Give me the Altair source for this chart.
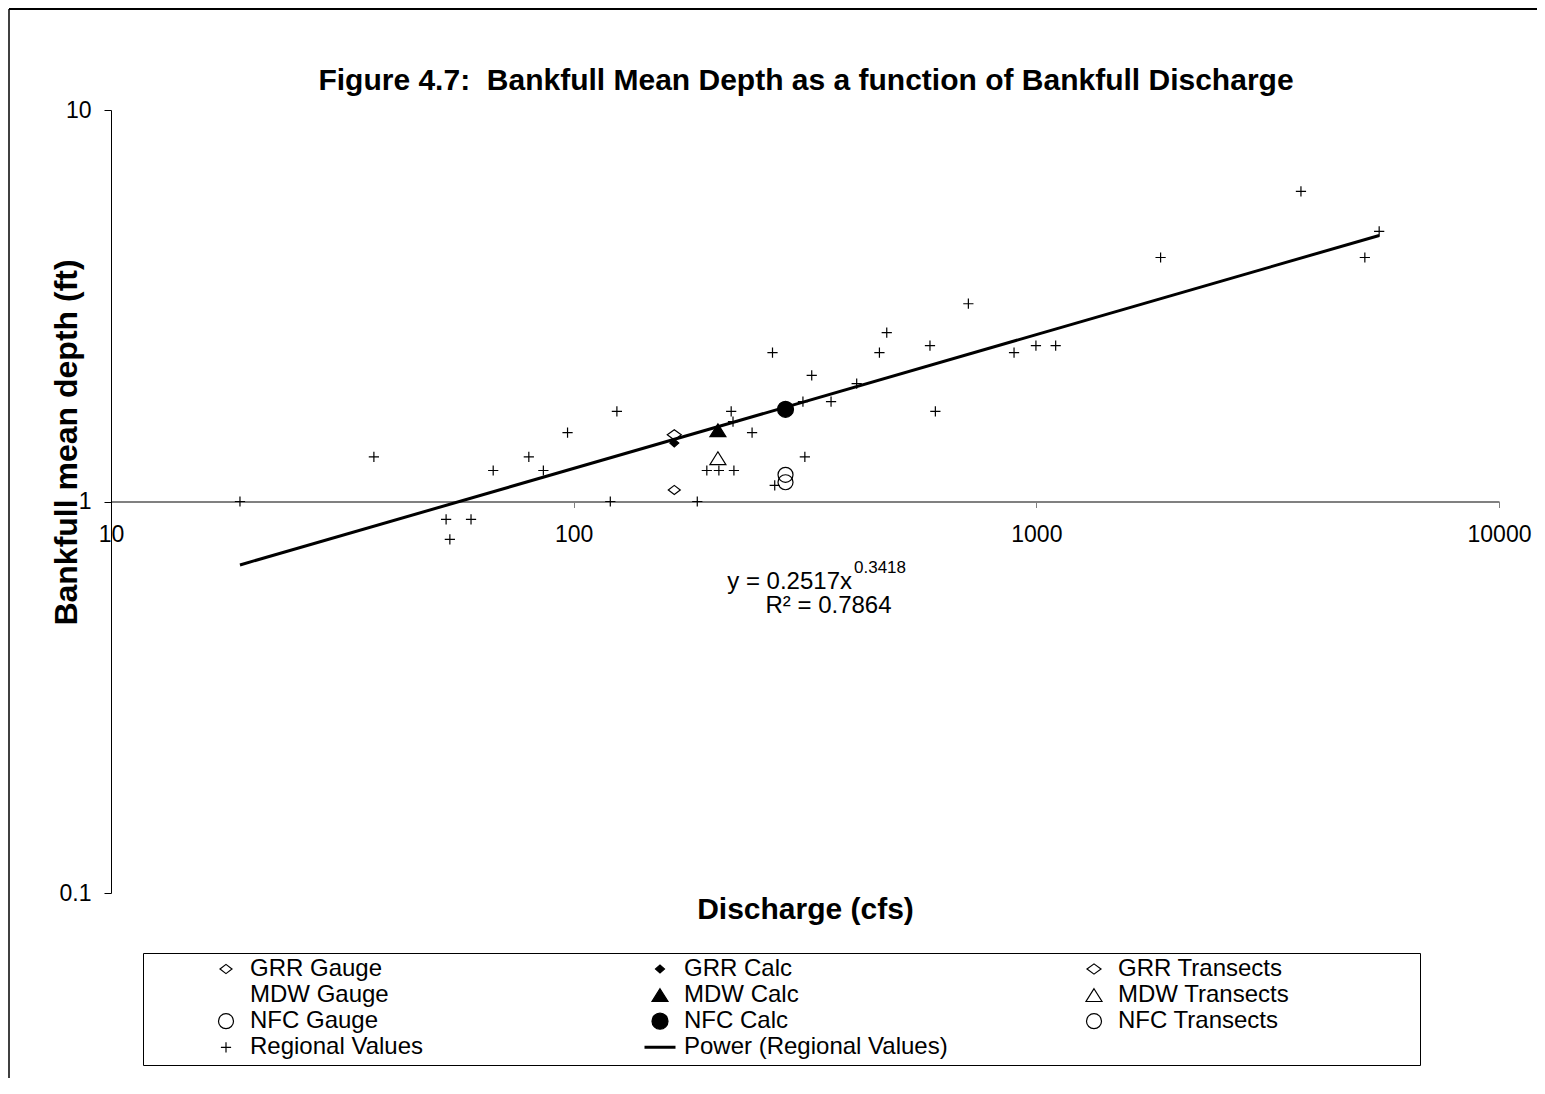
import altair as alt
import pandas as pd

# ---------------- data ----------------
regional_q = [19, 37, 53, 60, 54, 67, 80, 86, 97, 124, 120, 185, 194, 206, 222,
              219, 221, 243, 269, 272, 313, 316, 327, 360, 409, 458, 475, 589,
              605, 713, 895, 998, 1101, 1856, 3732, 5129, 5508]
regional_d = [1.0, 1.3, 0.9, 0.9, 0.8, 1.2, 1.3, 1.2, 1.5, 1.7, 1.0, 1.0, 1.2, 1.2, 1.2,
              1.7, 1.6, 1.5, 2.4, 1.1, 1.8, 1.3, 2.1, 1.8, 2.0, 2.4, 2.7, 2.5,
              1.7, 3.2, 2.4, 2.5, 2.5, 4.2, 6.2, 4.2, 4.9]

site_series = ["GRR Gauge", "GRR Calc", "GRR Transects", "MDW Calc", "MDW Transects",
               "NFC Gauge", "NFC Calc", "NFC Transects"]
site_q = [165, 165, 165, 205, 205, 287, 287, 287]
site_d = [1.07, 1.41, 1.48, 1.52, 1.29, 1.17, 1.72, 1.12]

legend_order = ["GRR Gauge", "GRR Calc", "GRR Transects",
                "MDW Gauge", "MDW Calc", "MDW Transects",
                "NFC Gauge", "NFC Calc", "NFC Transects",
                "Regional Values", "Power (Regional Values)"]

power_a = 0.2517
power_b = 0.3418
r_squared = 0.7864

x_ticks = [10, 100, 1000, 10000]
y_ticks = [0.1, 1, 10]

title_text = "Figure 4.7:\u00a0 Bankfull Mean Depth as a function of Bankfull Discharge"

# ---------------- symbol styles (paths in a [-1,1] box, box = 31 px) ----------------
def diamond(w, h):
    return f"M{-w},0L0,{-h}L{w},0L0,{h}Z"

def circle(r):
    return f"M{-r},0A{r},{r} 0 1,0 {r},0A{r},{r} 0 1,0 {-r},0Z"

TRI = "M0,-0.413L0.516,0.413L-0.516,0.413Z"
CROSS = "M-0.33,0L0.33,0M0,-0.33L0,0.33"
LINE = "M-1,-0.097L1,-0.097L1,0.097L-1,0.097Z"

shape_range = [diamond(0.387, 0.297), diamond(0.29, 0.25), diamond(0.452, 0.33),
               circle(0.3), TRI, TRI,
               circle(0.484), circle(0.516), circle(0.484),
               CROSS, LINE]
fill_range = ["transparent", "black", "transparent",
              "transparent", "black", "transparent",
              "transparent", "black", "transparent",
              "transparent", "black"]
stroke_range = ["black", "black", "black",
                "transparent", "black", "black",
                "black", "black", "black",
                "black", "transparent"]

points = pd.DataFrame({
    "q": regional_q + site_q,
    "d": regional_d + site_d,
    "series": ["Regional Values"] * len(regional_q) + site_series,
})

trend_q = [min(regional_q), max(regional_q)]
trend = pd.DataFrame({"q": trend_q, "d": [power_a * q ** power_b for q in trend_q]})

# ---------------- scales / axes ----------------
FONT = "Liberation Sans"
x_scale = alt.Scale(type="log", domain=[10, 10000], nice=False)
y_scale = alt.Scale(type="log", domain=[0.1, 10], nice=False)

x_axis = alt.Axis(values=x_ticks, labelExpr="datum.value + ''", offset=-391.5,
                  domainColor="#808080", domainWidth=2, tickColor="#808080",
                  tickSize=6, tickWidth=1, labelFontSize=23, labelPadding=16,
                  labelFlush=False, labelColor="black", labelFont=FONT,
                  title="Discharge (cfs)", titleFontSize=30, titleFontWeight="bold",
                  titleFont=FONT, titleColor="black",
                  titleX=694, titleY=408, titleAlign="center", titleBaseline="middle",
                  grid=False)
y_axis = alt.Axis(values=y_ticks, labelExpr="datum.value + ''",
                  domainColor="black", domainWidth=1, tickColor="black",
                  tickSize=7, tickWidth=1, labelFontSize=23, labelPadding=13,
                  labelColor="black", labelFont=FONT,
                  title="Bankfull mean depth (ft)", titleFontSize=32,
                  titleFontWeight="bold", titleFont=FONT, titleColor="black",
                  titleX=-45, titleY=332, titleAngle=270, titleAlign="center",
                  titleBaseline="middle", grid=False)

legend = alt.Legend(title=" ", titleOrient="right", titlePadding=126,
                    orient="none", legendX=32, legendY=843, direction="horizontal",
                    columns=3, gridAlign="all", columnPadding=68, rowPadding=2.1,
                    clipHeight=22, symbolSize=961, symbolOffset=61.5, labelOffset=7.5,
                    labelFontSize=24, labelFont=FONT, labelColor="black", labelLimit=600,
                    padding=5, strokeColor="black", fillColor="white",
                    symbolStrokeWidth=1.2)

enc_series = dict(
    shape=alt.Shape("series:N", scale=alt.Scale(domain=legend_order, range=shape_range), legend=legend),
    fill=alt.Fill("series:N", scale=alt.Scale(domain=legend_order, range=fill_range), legend=legend),
    stroke=alt.Stroke("series:N", scale=alt.Scale(domain=legend_order, range=stroke_range), legend=legend),
)

trend_line = alt.Chart(trend).mark_line(color="black", strokeWidth=3).encode(
    x=alt.X("q:Q", scale=x_scale, axis=x_axis),
    y=alt.Y("d:Q", scale=y_scale, axis=y_axis),
)

markers = alt.Chart(points).mark_point(filled=False, opacity=1, size=961, strokeWidth=1.2).encode(
    x=alt.X("q:Q", scale=x_scale, axis=x_axis),
    y=alt.Y("d:Q", scale=y_scale, axis=y_axis),
    **enc_series,
)

one = pd.DataFrame({"k": [0]})

def label(text, x, y, size, align="left", weight="normal"):
    return alt.Chart(pd.DataFrame({"t": [text]})).mark_text(
        font=FONT, fontSize=size, fontWeight=weight, align=align,
        baseline="alphabetic", color="black",
    ).encode(x=alt.value(x), y=alt.value(y), text="t:N")

title = label(title_text, 695, -20, 30, align="center", weight="bold")
eq_main = label(f"y = {power_a}x", 741, 479, 24, align="right")
eq_sup = label(f"{power_b}", 743, 463, 17, align="left")
eq_r2 = label(f"R\u00b2 = {r_squared}", 717.5, 503, 24, align="center")

frame_left = alt.Chart(one).mark_rule(color="black", strokeWidth=1.5).encode(
    x=alt.value(-102), y=alt.value(-101), y2=alt.value(970))
frame_top = alt.Chart(one).mark_rule(color="black", strokeWidth=2).encode(
    x=alt.value(-102), x2=alt.value(1430), y=alt.value(-101))

chart = alt.layer(
    frame_left, frame_top, trend_line, markers, title, eq_main, eq_sup, eq_r2
).properties(
    width=1388, height=783,
    autosize=alt.AutoSizeParams(type="none"),
    padding={"left": 103, "top": 102, "right": 38, "bottom": 185},
).configure(font=FONT).configure_view(stroke="transparent", strokeWidth=0)

chart.save("out.html", embed_options={"renderer": "svg", "actions": False})
